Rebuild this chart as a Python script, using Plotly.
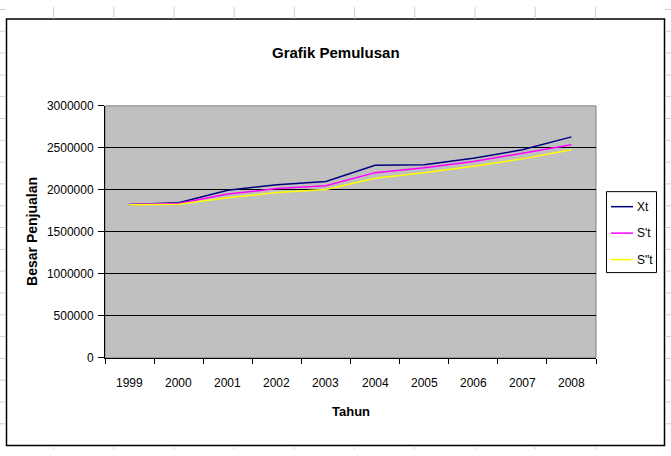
import plotly.graph_objects as go

years = ["1999", "2000", "2001", "2002", "2003", "2004", "2005", "2006", "2007", "2008"]
xt = [1825000, 1848000, 1996000, 2062000, 2100000, 2292000, 2300000, 2377000, 2477000, 2631000]
s1 = [1825000, 1838000, 1950000, 2015000, 2050000, 2205000, 2263000, 2339000, 2435000, 2538000]
s2 = [1822000, 1828000, 1905000, 1968000, 2005000, 2138000, 2205000, 2281000, 2369000, 2477000]
series_names = ["Xt", "S't", "S\"t"]
series_colors = ["#000080", "#FF00FF", "#FFFF00"]
y_ticks = [0, 500000, 1000000, 1500000, 2000000, 2500000, 3000000]

W, H = 671, 456
FONT = "Liberation Sans, Arial, sans-serif"

def px(x):
    return x / W

def py(y):
    return (H - y) / H

fig = go.Figure()
for name, vals, col in zip(series_names, [xt, s1, s2], series_colors):
    fig.add_trace(go.Scatter(
        x=years, y=vals, name=name, mode="lines",
        line=dict(color=col, width=1.5),
        showlegend=False,
    ))

shapes = []
annotations = []
# spreadsheet cell gridlines peeking around the chart
grid_col = "#cfcfcf"
for k in range(10):
    x = 53.6 + 60.2 * k
    shapes.append(dict(type="line", xref="paper", yref="paper", x0=px(x), x1=px(x), y0=py(0), y1=py(12), line=dict(color=grid_col, width=1)))
    shapes.append(dict(type="line", xref="paper", yref="paper", x0=px(x), x1=px(x), y0=py(453), y1=py(456), line=dict(color=grid_col, width=1)))
for k in range(20):
    y = 2.5 + 22.5 * k
    if y > 456:
        break
    shapes.append(dict(type="line", xref="paper", yref="paper", x0=px(0), x1=px(6), y0=py(y), y1=py(y), line=dict(color=grid_col, width=1)))
    shapes.append(dict(type="line", xref="paper", yref="paper", x0=px(665), x1=px(671), y0=py(y), y1=py(y), line=dict(color=grid_col, width=1)))
# chart border
shapes.append(dict(type="rect", xref="paper", yref="paper", x0=px(6.5), x1=px(664.5), y0=py(452.5), y1=py(12.5),
                   line=dict(color="black", width=1.5), layer="below"))
# plot area border
shapes.append(dict(type="rect", xref="x domain", yref="y domain", x0=0, x1=1, y0=0, y1=1,
                   line=dict(color="#808080", width=1), layer="below"))

# legend box (Excel style)
shapes.append(dict(type="rect", xref="paper", yref="paper", x0=px(606.5), x1=px(656.5), y0=py(274), y1=py(190.5),
                   line=dict(color="black", width=1), fillcolor="white"))
for i, (name, col) in enumerate(zip(series_names, series_colors)):
    ly = 206 + 27.3 * i
    shapes.append(dict(type="line", xref="paper", yref="paper", x0=px(611), x1=px(633), y0=py(ly), y1=py(ly),
                       line=dict(color=col, width=1.5)))
    annotations.append(dict(text=name, xref="paper", yref="paper", x=px(635), y=py(ly), showarrow=False,
                            xanchor="left", yanchor="middle", font=dict(family=FONT, size=12)))

# category labels placed through the x axis scale (category index)
for idx, yr in enumerate(years):
    annotations.append(dict(text=yr, xref="x", yref="paper", x=idx, y=py(388), showarrow=False,
                            xanchor="center", yanchor="middle", font=dict(family=FONT, size=12)))

annotations += [
    dict(text="<b>Grafik Pemulusan</b>", xref="paper", yref="paper", x=px(336), y=py(47),
         showarrow=False, font=dict(family=FONT, size=15), xanchor="center", yanchor="middle"),
    dict(text="<b>Tahun</b>", xref="paper", yref="paper", x=px(350.5), y=py(417),
         showarrow=False, font=dict(family=FONT, size=13), xanchor="center", yanchor="middle"),
    dict(text="<b>Besar Penjualan</b>", xref="paper", yref="paper", x=px(32), y=py(232),
         showarrow=False, textangle=-90, font=dict(family=FONT, size=14), xanchor="center", yanchor="middle"),
]

fig.update_layout(
    width=W, height=H,
    margin=dict(l=0, r=0, t=0, b=0),
    paper_bgcolor="white",
    plot_bgcolor="#C0C0C0",
    font=dict(family=FONT, size=12, color="black"),
    showlegend=False,
    xaxis=dict(domain=[px(105), px(596)], type="category", categoryorder="array", categoryarray=years,
               range=[-0.5, 9.5], showgrid=False, showline=True, linecolor="black", linewidth=1,
               ticks="outside", tickson="boundaries", ticklen=5, tickcolor="black", tickwidth=1,
               showticklabels=False, zeroline=False),
    yaxis=dict(domain=[py(362), py(102)], range=[0, 3000000], tickvals=y_ticks,
               tickformat="d", showgrid=True, gridcolor="black", gridwidth=1,
               showline=True, linecolor="black", linewidth=1, zeroline=False,
               ticks="outside", ticklen=6, tickcolor="black",
               tickfont=dict(family=FONT, size=12), ticklabelstandoff=2),
    shapes=shapes,
    annotations=annotations,
)

fig.write_html("out.html")
